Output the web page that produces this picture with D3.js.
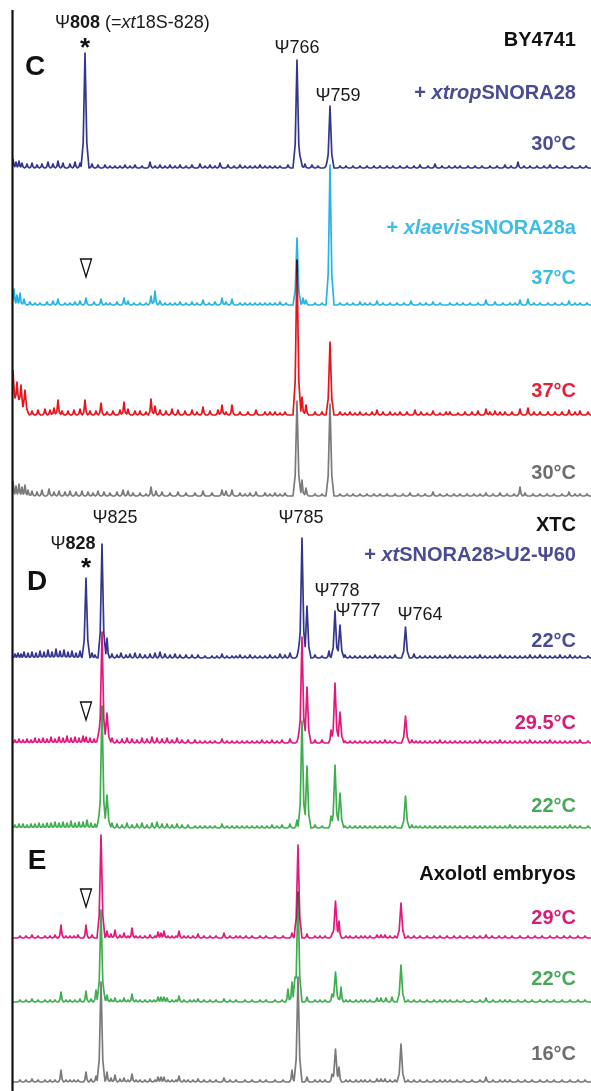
<!DOCTYPE html>
<html>
<head>
<meta charset="utf-8">
<script src="https://cdn.jsdelivr.net/npm/d3@7"></script>
<style>
  html, body { margin: 0; padding: 0; background: #fff; }
  svg { display: block; }
  text { font-family: "Liberation Sans", Arial, Helvetica, sans-serif; }
  .trace { fill: none; stroke-width: 1.7; stroke-linejoin: round; mix-blend-mode: multiply; }
</style>
</head>
<body>
<script>
// ---------- DATA (positions = migration position, heights = signal) ----------
// Major peaks: [position, height]
const navyC_peaks  = [[85,115],[297,108],[330,62]];
const cyanC_peaks  = [[297,67],[330,140]];
const redC_peaks   = [[297,155],[302,18],[306,10],[330,73]];
const grayC_peaks  = [[297,95],[302,16],[306,8],[330,92]];
const navyD_peaks  = [[86,80],[102,114],[107,20],[302,120],[307,52],[335,47],[340,33],[405.5,31]];
const pinkD_peaks  = [[102,111],[107,30],[302,106],[307,56],[331,13],[335,60],[340,31],[405.5,27]];
const greenD_peaks = [[102,122],[107,33],[302,107],[307,62],[331,12],[335,63],[340,35],[405.5,32]];
const pinkE_peaks  = [[101,103],[298,93],[335.5,37],[339,17],[401,35]];
const greenE_peaks = [[101,92],[298,110],[335.5,30],[341,15],[401,37]];
const grayE_peaks  = [[101,100],[298,105],[335.5,33],[339,15],[401,38]];

// Background bumps: [position, height]
const navyC_noise = [[13,9],[16,6],[19,7],[22,5],[27,4],[32,5],[37,3],[42,4],[48,6],[53,4],[58,7],[63,5],[70,4],[75,6],[80,5],[92,4],[98,3],[105,3],[110,2],[115,2],[120,2],[125,3],[130,2],[135,3],[142,2],[150,6],[155,2],[160,3],[165,2],[170,3],[175,2],[180,3],[186,2],[192,3],[200,4],[205,2],[210,3],[215,2],[220,5],[228,3],[234,2],[240,3],[245,2],[250,2],[255,2],[260,3],[265,2],[270,2],[275,2],[280,2],[288,3],[301,8],[305,4],[312,3],[318,2],[326,2],[340,2],[346,2],[353,2],[360,2],[367,2],[374,2],[380,2],[387,2],[393,2],[400,2],[407,2],[414,2],[420,3],[428,2],[435,4],[442,2],[449,2],[455,2],[460,2],[468,2],[475,2],[482,2],[490,2],[497,2],[505,3],[511,2],[518,6],[524,2],[530,2],[537,2],[544,2],[550,3],[557,2],[565,2],[572,2],[580,2],[586,2]];
const cyanC_noise = [[14,16],[17,10],[20,12],[24,6],[30,3],[35,2],[40,2],[47,3],[53,4],[58,6],[65,2],[70,2],[75,3],[80,4],[86,7],[94,3],[101,6],[106,2],[110,2],[117,3],[124,7],[128,4],[134,2],[140,2],[146,2],[151,9],[155,14],[160,4],[165,2],[170,2],[175,2],[180,3],[186,2],[192,3],[197,2],[203,5],[209,2],[215,3],[222,7],[226,3],[232,6],[240,2],[245,2],[250,2],[255,2],[260,2],[265,2],[270,2],[275,2],[280,3],[286,2],[303,7],[306,5],[315,2],[322,2],[340,2],[347,2],[353,2],[360,3],[365,2],[370,2],[377,4],[383,2],[390,2],[397,2],[404,2],[411,4],[420,2],[426,2],[433,3],[440,2],[450,2],[457,2],[463,2],[470,2],[478,2],[486,5],[495,3],[503,2],[510,2],[515,2],[520,5],[528,6],[534,2],[540,2],[548,2],[555,2],[562,2],[569,4],[575,2],[580,2],[587,2]];
const redC_noise = [[13,45],[15,20],[17,33],[19,18],[21,30],[23,10],[25,25],[27,6],[32,4],[38,5],[45,6],[50,5],[54,7],[58,15],[62,4],[68,4],[74,5],[80,6],[85,15],[90,4],[96,4],[101,12],[107,3],[113,4],[120,5],[124,13],[128,6],[135,4],[140,4],[146,3],[151,16],[155,9],[160,5],[166,4],[172,6],[178,5],[185,4],[192,5],[197,3],[203,8],[210,4],[218,5],[222,10],[226,3],[232,10],[240,3],[248,3],[256,5],[265,3],[270,3],[275,3],[280,2],[285,3],[315,3],[322,3],[340,3],[345,2],[350,3],[355,2],[360,3],[366,2],[372,3],[377,5],[383,3],[390,3],[395,2],[400,3],[407,3],[415,5],[421,3],[427,2],[433,4],[440,2],[446,3],[450,3],[458,2],[465,3],[472,3],[478,4],[486,6],[490,3],[495,4],[500,3],[505,3],[512,3],[520,6],[528,7],[534,3],[540,3],[548,3],[555,3],[562,3],[569,5],[575,3],[580,4],[588,3]];
const grayC_noise = [[13,15],[16,10],[19,12],[22,9],[25,11],[28,6],[32,5],[37,4],[42,6],[49,7],[54,4],[59,5],[65,4],[70,5],[76,4],[82,5],[88,4],[93,3],[98,5],[104,4],[110,3],[117,4],[123,6],[128,5],[133,3],[140,3],[146,2],[151,9],[156,5],[162,4],[170,3],[178,4],[186,3],[195,3],[203,5],[212,3],[222,6],[226,5],[232,6],[240,3],[245,2],[250,3],[256,4],[265,3],[270,2],[275,3],[280,2],[285,3],[315,2],[322,2],[340,2],[347,2],[353,2],[360,2],[367,2],[374,2],[380,2],[387,2],[395,2],[403,2],[410,3],[418,2],[425,2],[433,4],[440,2],[447,2],[454,2],[460,2],[467,2],[474,2],[480,2],[486,3],[493,2],[500,3],[507,2],[514,2],[520,9],[525,3],[533,2],[540,2],[547,2],[554,2],[562,2],[569,4],[575,2],[580,2],[587,2]];
const navyD_noise = [[15,4],[18,5],[21,4],[24,6],[28,5],[32,6],[36,5],[40,7],[44,6],[48,8],[52,6],[56,9],[60,7],[64,8],[68,6],[72,7],[76,5],[80,7],[84,5],[92,5],[95,3],[112,4],[117,3],[121,5],[126,3],[130,4],[135,5],[140,4],[145,3],[150,4],[155,5],[160,6],[165,4],[170,3],[175,4],[180,3],[186,3],[192,3],[198,3],[205,2],[212,2],[217,2],[222,4],[227,2],[232,2],[236,2],[240,3],[245,2],[250,3],[255,2],[260,2],[265,2],[270,3],[275,2],[280,4],[285,3],[290,5],[298,6],[315,3],[322,2],[329,7],[345,3],[350,2],[355,2],[360,2],[365,2],[370,2],[375,3],[380,2],[385,2],[390,2],[395,3],[414,4],[420,2],[425,2],[430,2],[435,2],[440,2],[445,2],[450,3],[455,2],[460,2],[465,2],[470,2],[475,2],[480,3],[485,2],[490,2],[495,2],[500,3],[505,2],[510,2],[515,2],[520,2],[525,2],[530,3],[535,2],[540,3],[545,2],[550,2],[555,2],[560,3],[565,2],[570,3],[575,2],[580,2],[588,2]];
const pinkD_noise = [[15,3],[19,4],[23,3],[27,4],[31,3],[35,5],[39,4],[43,5],[47,4],[51,6],[55,4],[59,6],[63,5],[67,7],[71,5],[75,6],[79,5],[83,7],[86,6],[90,5],[94,4],[98,7],[112,5],[117,3],[122,4],[127,5],[132,4],[137,3],[142,5],[147,4],[152,6],[157,5],[162,4],[167,5],[172,3],[177,5],[182,3],[188,3],[195,3],[200,2],[205,2],[210,2],[215,2],[222,4],[227,2],[232,2],[237,2],[242,2],[247,2],[252,2],[257,2],[262,3],[267,2],[272,3],[277,2],[282,3],[290,4],[298,5],[315,3],[322,3],[345,2],[350,2],[355,2],[360,2],[365,2],[370,2],[375,2],[380,2],[385,3],[390,2],[395,2],[412,3],[416,2],[420,2],[425,2],[430,2],[435,2],[440,3],[445,2],[450,2],[455,2],[460,2],[465,2],[470,2],[475,2],[480,3],[485,2],[490,2],[495,2],[500,3],[505,2],[510,2],[515,2],[520,2],[525,2],[530,3],[535,2],[540,2],[545,2],[550,3],[555,2],[560,2],[565,2],[570,2],[575,2],[580,3],[588,2]];
const greenD_noise = [[15,3],[19,4],[23,4],[27,3],[31,4],[35,4],[39,5],[43,4],[47,5],[51,5],[55,6],[59,5],[63,6],[67,5],[71,7],[75,5],[79,6],[83,6],[87,8],[91,5],[95,4],[98,6],[112,5],[117,4],[122,3],[127,5],[132,3],[137,4],[142,5],[147,3],[152,5],[157,6],[162,4],[167,4],[172,3],[177,4],[182,3],[188,3],[195,2],[200,2],[205,2],[210,2],[215,2],[222,4],[227,2],[232,2],[237,2],[242,2],[247,2],[252,2],[257,2],[262,2],[267,2],[272,3],[277,2],[282,3],[290,4],[297,8],[315,3],[322,2],[345,2],[350,2],[355,2],[360,2],[365,2],[370,2],[375,2],[380,2],[385,2],[390,2],[395,2],[412,3],[416,2],[420,2],[425,2],[430,2],[435,2],[440,2],[445,2],[450,2],[455,2],[460,2],[465,2],[470,2],[475,2],[480,2],[485,2],[490,2],[495,2],[500,2],[505,2],[510,3],[515,2],[520,2],[525,2],[530,2],[535,2],[540,2],[545,2],[550,2],[555,2],[560,2],[565,2],[570,3],[575,2],[580,2],[588,2]];
const pinkE_noise = [[20,2],[26,2],[32,3],[38,2],[45,2],[50,2],[55,3],[61,13],[66,2],[70,2],[74,2],[78,3],[86,13],[92,3],[107,7],[111,4],[115,8],[120,3],[124,5],[128,2],[132,10],[136,2],[140,2],[145,2],[150,3],[155,2],[158,6],[161,5],[164,7],[168,2],[172,2],[176,2],[179,7],[184,2],[188,2],[193,2],[198,4],[204,2],[210,2],[216,2],[224,5],[230,2],[236,2],[240,2],[246,2],[252,2],[260,2],[266,2],[275,2],[283,2],[292,5],[307,4],[315,2],[320,2],[325,2],[332,4],[346,2],[350,2],[356,2],[361,2],[365,2],[370,2],[377,3],[381,3],[385,3],[390,2],[395,2],[408,2],[414,2],[420,2],[427,2],[434,2],[440,2],[447,2],[454,2],[460,2],[467,2],[474,2],[480,2],[486,3],[492,2],[499,2],[505,2],[512,2],[520,2],[528,2],[535,2],[542,2],[550,2],[557,2],[564,2],[570,2],[578,2],[585,2]];
const greenE_noise = [[20,2],[26,2],[32,3],[38,2],[45,2],[50,2],[55,2],[61,10],[66,2],[70,2],[75,2],[80,3],[86,11],[91,3],[96,12],[99,12],[104,10],[107,7],[111,3],[115,4],[120,2],[124,4],[128,2],[132,8],[136,2],[140,2],[145,2],[150,2],[154,2],[158,5],[161,5],[164,5],[167,4],[172,2],[176,2],[179,6],[184,2],[190,2],[194,2],[198,3],[204,2],[210,2],[216,2],[224,3],[230,2],[236,2],[245,2],[252,2],[260,2],[266,2],[275,2],[282,2],[288,13],[292,20],[295,25],[307,5],[315,2],[320,2],[325,2],[332,8],[346,2],[350,2],[356,2],[361,2],[365,2],[370,2],[377,4],[381,4],[386,4],[392,5],[408,2],[414,2],[420,2],[427,2],[434,2],[440,2],[445,2],[450,2],[457,2],[464,2],[472,2],[480,2],[486,4],[493,2],[500,2],[505,2],[510,2],[518,2],[525,2],[532,2],[540,2],[547,2],[554,2],[562,2],[570,2],[578,2],[585,2]];
const grayE_noise = [[20,2],[26,2],[32,3],[38,2],[45,2],[50,2],[55,2],[61,12],[66,2],[70,2],[74,2],[78,2],[86,10],[91,3],[96,6],[107,10],[111,4],[115,7],[120,3],[124,4],[128,2],[132,8],[136,2],[140,2],[145,2],[150,3],[155,2],[158,5],[161,5],[164,5],[168,2],[172,2],[176,2],[179,6],[184,2],[188,2],[193,2],[198,3],[204,2],[210,2],[216,2],[224,4],[230,2],[236,2],[245,2],[252,2],[260,2],[266,2],[275,2],[283,2],[292,12],[307,5],[315,2],[320,2],[325,2],[332,8],[346,2],[350,2],[356,2],[361,2],[365,2],[370,2],[377,3],[381,3],[385,3],[390,2],[395,2],[408,2],[414,2],[420,2],[427,2],[434,2],[440,2],[445,2],[450,2],[457,2],[464,2],[472,2],[480,2],[486,5],[493,2],[500,2],[505,2],[510,2],[518,2],[525,2],[532,2],[540,2],[547,2],[554,2],[562,2],[570,2],[578,2],[585,2]];

// ---------- CHART ----------
const W = 591, H = 1091;
const svg = d3.select("body").append("svg").attr("width", W).attr("height", H);

const x = d3.scaleLinear().domain([13, 591]).range([13, 591]);

const traces = [
  {peaks: grayE_peaks,  noise: grayE_noise,  base: 1082, color: "#7a7a7a"},
  {peaks: greenE_peaks, noise: greenE_noise, base: 1002, color: "#3fae4f"},
  {peaks: pinkE_peaks,  noise: pinkE_noise,  base: 938,  color: "#e2187d"},
  {peaks: greenD_peaks, noise: greenD_noise, base: 828,  color: "#3fae4f"},
  {peaks: pinkD_peaks,  noise: pinkD_noise,  base: 743,  color: "#e2187d"},
  {peaks: navyD_peaks,  noise: navyD_noise,  base: 658,  color: "#33368c"},
  {peaks: grayC_peaks,  noise: grayC_noise,  base: 496,  color: "#7a7a7a"},
  {peaks: redC_peaks,   noise: redC_noise,   base: 415,  color: "#e8141c"},
  {peaks: cyanC_peaks,  noise: cyanC_noise,  base: 305,  color: "#27b4e0"},
  {peaks: navyC_peaks,  noise: navyC_noise,  base: 168,  color: "#33368c"}
];

// peak glyph: narrow spike, vertices relative to position
function glyph(p, h) {
  const w = h > 20 ? 4 : 2.6;
  return [[p - w, 0], [p - w * 0.45, h * 0.22], [p, h], [p + w * 0.45, h * 0.22], [p + w, 0]];
}
function glyphAt(g, xv) {
  if (xv <= g[0][0] || xv >= g[4][0]) return 0;
  for (let i = 0; i < 4; i++) {
    const a = g[i], b = g[i + 1];
    if (xv >= a[0] && xv <= b[0]) return a[1] + (b[1] - a[1]) * (xv - a[0]) / (b[0] - a[0]);
  }
  return 0;
}
function tracePoints(list) {
  const glyphs = list.map(d => glyph(d[0], d[1]));
  let xsAll = [13, 591];
  glyphs.forEach(g => g.forEach(v => xsAll.push(v[0])));
  xsAll = Array.from(new Set(xsAll.filter(v => v >= 13 && v <= 591))).sort((a, b) => a - b);
  return xsAll.map(xv => [xv, d3.max(glyphs, g => glyphAt(g, xv))]);
}

traces.forEach(t => {
  const y = d3.scaleLinear().domain([0, 100]).range([t.base, t.base - 100]);
  const line = d3.line().x(d => x(d[0])).y(d => y(d[1]));
  svg.append("path").attr("class", "trace").attr("stroke", t.color)
    .attr("d", line(tracePoints(t.peaks.concat(t.noise))));
});

// left axis line
svg.append("line").attr("x1", 12.5).attr("x2", 12.5).attr("y1", 10).attr("y2", H)
  .attr("stroke", "#111").attr("stroke-width", 2.2);

// ---------- TEXT ----------
function label(xp, yc, parts, opts) {
  const t = svg.append("text").attr("x", xp).attr("y", yc).attr("dy", "0.36em")
    .attr("text-anchor", opts.anchor || "start")
    .attr("font-size", opts.size).attr("fill", opts.color)
    .attr("font-weight", opts.weight || "normal");
  parts.forEach(p => {
    const s = t.append("tspan").text(p.t);
    if (p.b) s.attr("font-weight", "bold");
    if (p.i) s.attr("font-style", "italic");
  });
  return t;
}
const R = 576;
// Panel C
label(55, 22, [{t:"Ψ"},{t:"808",b:1},{t:" (="},{t:"xt",i:1},{t:"18S-828)"}], {size:18, color:"#1a1a1a"});
label(R, 39, [{t:"BY4741"}], {anchor:"end", size:20, weight:"bold", color:"#111"});
label(R, 92, [{t:"+ "},{t:"xtrop",i:1},{t:"SNORA28"}], {anchor:"end", size:20, weight:"bold", color:"#4a4c93"});
label(R, 143, [{t:"30°C"}], {anchor:"end", size:20, weight:"bold", color:"#4a4c93"});
label(R, 227, [{t:"+ "},{t:"xlaevis",i:1},{t:"SNORA28a"}], {anchor:"end", size:20, weight:"bold", color:"#3dbde6"});
label(R, 277, [{t:"37°C"}], {anchor:"end", size:20, weight:"bold", color:"#3dbde6"});
label(R, 390, [{t:"37°C"}], {anchor:"end", size:20, weight:"bold", color:"#e3223a"});
label(R, 472, [{t:"30°C"}], {anchor:"end", size:20, weight:"bold", color:"#6e6e6e"});
label(297, 47, [{t:"Ψ766"}], {anchor:"middle", size:18, color:"#1a1a1a"});
label(338, 95, [{t:"Ψ759"}], {anchor:"middle", size:18, color:"#1a1a1a"});
label(35, 65, [{t:"C"}], {anchor:"middle", size:28, weight:"bold", color:"#111"});

// Panel D
label(R, 524, [{t:"XTC"}], {anchor:"end", size:20, weight:"bold", color:"#111"});
label(R, 554, [{t:"+ "},{t:"xt",i:1},{t:"SNORA28>U2-Ψ60"}], {anchor:"end", size:20, weight:"bold", color:"#4a4c93"});
label(R, 640, [{t:"22°C"}], {anchor:"end", size:20, weight:"bold", color:"#4a4c93"});
label(R, 722, [{t:"29.5°C"}], {anchor:"end", size:20, weight:"bold", color:"#d91b78"});
label(R, 805, [{t:"22°C"}], {anchor:"end", size:20, weight:"bold", color:"#48a85a"});
label(115, 517, [{t:"Ψ825"}], {anchor:"middle", size:18, color:"#1a1a1a"});
label(301, 517, [{t:"Ψ785"}], {anchor:"middle", size:18, color:"#1a1a1a"});
label(73, 543, [{t:"Ψ"},{t:"828",b:1}], {anchor:"middle", size:18, color:"#1a1a1a"});
label(337, 590, [{t:"Ψ778"}], {anchor:"middle", size:18, color:"#1a1a1a"});
label(358, 610, [{t:"Ψ777"}], {anchor:"middle", size:18, color:"#1a1a1a"});
label(420, 614, [{t:"Ψ764"}], {anchor:"middle", size:18, color:"#1a1a1a"});
label(37, 580, [{t:"D"}], {anchor:"middle", size:28, weight:"bold", color:"#111"});

// Panel E
label(R, 873, [{t:"Axolotl embryos"}], {anchor:"end", size:20, weight:"bold", color:"#111"});
label(R, 917, [{t:"29°C"}], {anchor:"end", size:20, weight:"bold", color:"#d91b78"});
label(R, 978, [{t:"22°C"}], {anchor:"end", size:20, weight:"bold", color:"#48a85a"});
label(R, 1053, [{t:"16°C"}], {anchor:"end", size:20, weight:"bold", color:"#6e6e6e"});
label(37, 859, [{t:"E"}], {anchor:"middle", size:28, weight:"bold", color:"#111"});

// asterisks
[[85, 43], [86, 563]].forEach(([ax, ay]) => {
  svg.append("text").attr("x", ax).attr("y", ay + 13).attr("text-anchor", "middle")
    .attr("font-size", 26).attr("font-weight", "bold").attr("fill", "#111").text("*");
});
// open triangles
[[86, 268], [86, 711], [86, 898]].forEach(([tx, ty]) => {
  svg.append("path")
    .attr("d", d3.line()([[tx - 5.5, ty - 9], [tx + 5.5, ty - 9], [tx, ty + 9]]) + "Z")
    .attr("fill", "none").attr("stroke", "#111").attr("stroke-width", 1.3).attr("stroke-linejoin", "miter");
});
</script>
</body>
</html>
